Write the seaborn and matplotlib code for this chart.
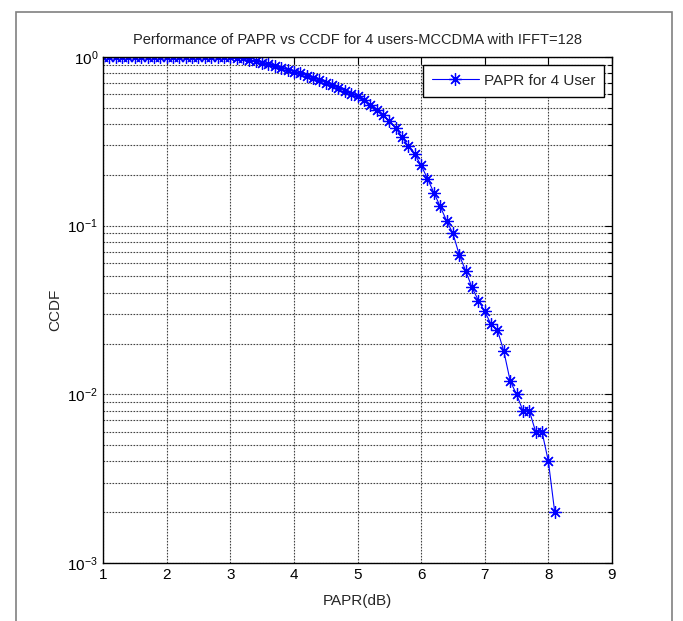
import numpy as np
import pandas as pd
import matplotlib
matplotlib.use('Agg')
import matplotlib.pyplot as plt
import seaborn as sns
from matplotlib.patches import Rectangle
from matplotlib.ticker import LogLocator, FixedLocator

papr_db = [1.0, 1.1, 1.2, 1.3, 1.4, 1.5, 1.6, 1.7, 1.8, 1.9,
           2.0, 2.1, 2.2, 2.3, 2.4, 2.5, 2.6, 2.7, 2.8, 2.9,
           3.0, 3.1, 3.2, 3.3, 3.4, 3.5, 3.6, 3.7, 3.8, 3.9,
           4.0, 4.1, 4.2, 4.3, 4.4, 4.5, 4.6, 4.7, 4.8, 4.9,
           5.0, 5.1, 5.2, 5.3, 5.4, 5.5, 5.6, 5.7, 5.8, 5.9,
           6.0, 6.1, 6.2, 6.3, 6.4, 6.5, 6.6, 6.7, 6.8, 6.9,
           7.0, 7.1, 7.2, 7.3, 7.4, 7.5, 7.6, 7.7, 7.8, 7.9,
           8.0, 8.1]
ccdf = [1.0, 1.0, 1.0, 1.0, 1.0, 1.0, 1.0, 1.0, 1.0, 1.0,
        1.0, 1.0, 1.0, 1.0, 1.0, 1.0, 1.0, 1.0, 1.0, 1.0,
        0.995, 0.99, 0.98, 0.965, 0.945, 0.925, 0.905, 0.88, 0.86, 0.84,
        0.82, 0.80, 0.775, 0.75, 0.73, 0.705, 0.68, 0.655, 0.63, 0.605,
        0.585, 0.555, 0.52, 0.485, 0.45, 0.415, 0.38, 0.335, 0.295, 0.265,
        0.228, 0.19, 0.157, 0.13, 0.107, 0.09, 0.067, 0.054, 0.043, 0.036,
        0.031, 0.026, 0.024, 0.018, 0.012, 0.010, 0.008, 0.008, 0.006, 0.006,
        0.004, 0.002]
x_ticks = [1, 2, 3, 4, 5, 6, 7, 8, 9]
series_label = 'PAPR for 4 User'

df = pd.DataFrame({'PAPR': papr_db, 'CCDF': ccdf})

sns.set_style('white')
plt.rcParams['font.family'] = ['Liberation Sans', 'DejaVu Sans']
plt.rcParams['xtick.direction'] = 'in'
plt.rcParams['ytick.direction'] = 'in'
plt.rcParams['axes.unicode_minus'] = False

fig = plt.figure(figsize=(6.83, 6.21), dpi=100)
ax = fig.add_axes([103 / 683, 1 - 563 / 621, (612 - 103) / 683, (563 - 57) / 621])

sns.lineplot(data=df, x='PAPR', y='CCDF', ax=ax, color='#0000ff', linewidth=0.8,
             marker=(8, 2, 0), markersize=9, markeredgewidth=0.9,
             markeredgecolor='#0000ff', label=series_label)

ax.set_yscale('log')
ax.set_xlim(1, 9)
ax.set_ylim(1e-3, 1)
ax.xaxis.set_major_locator(FixedLocator(x_ticks))
ax.yaxis.set_major_locator(LogLocator(base=10, numticks=10))
ax.yaxis.set_minor_locator(LogLocator(base=10, subs=np.arange(2, 10), numticks=10))

ax.grid(True, which='major', axis='both', color='#444444', linestyle=(0, (1.5, 1.2)), linewidth=0.8)
ax.grid(True, which='minor', axis='y', color='#444444', linestyle=(0, (1.5, 1.2)), linewidth=0.8)

for s in ax.spines.values():
    s.set_color('black')
    s.set_linewidth(1.0)
ax.tick_params(which='both', top=True, right=True, labelsize=11, colors='black')
ax.tick_params(which='major', length=5, width=0.8)
ax.tick_params(which='minor', length=3, width=0.8)

ax.set_title('Performance of PAPR vs CCDF for 4 users-MCCDMA with IFFT=128', fontsize=10.5, pad=9)
ax.set_xlabel('PAPR(dB)', fontsize=11, labelpad=9)
ax.set_ylabel('CCDF', fontsize=11, labelpad=4)

leg = ax.legend(loc='upper right', fontsize=11, frameon=True, fancybox=False,
                framealpha=1, edgecolor='black', borderaxespad=0.5, borderpad=0.6,
                handlelength=3.1, handletextpad=0.3)
leg.get_frame().set_linewidth(1.0)

# outer gray frame like the exported figure
fig.patches.append(Rectangle((16 / 683, -0.1), (672 - 16) / 683, 1.1 - 12 / 621,
                             transform=fig.transFigure, fill=False,
                             edgecolor='#808080', linewidth=1.2))

fig.savefig('out.png', dpi=100)
